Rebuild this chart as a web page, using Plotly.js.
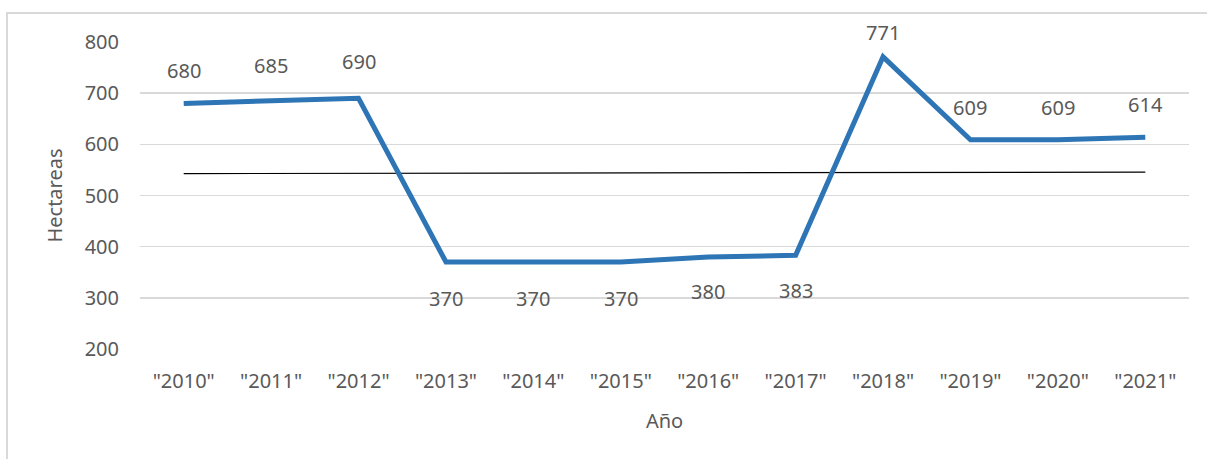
<!DOCTYPE html>
<html>
<head>
<meta charset="utf-8">
<script src="https://cdn.plot.ly/plotly-3.0.1.min.js"></script>
<style>html,body{margin:0;padding:0;background:#fff;}#chart{width:1207px;height:459px;}</style>
</head>
<body>
<div id="chart"></div>
<script>
var years = ['"2010"','"2011"','"2012"','"2013"','"2014"','"2015"','"2016"','"2017"','"2018"','"2019"','"2020"','"2021"'];
var hectareas = [680, 685, 690, 370, 370, 370, 380, 383, 771, 609, 609, 614];
var labelShift = [33, 35, 37, -36, -36, -36, -35, -35, 24, 32, 32, 33];

// linear trend line (least squares) computed from the data
var n = hectareas.length;
var idx = hectareas.map(function(_, i){ return i; });
var mx = idx.reduce(function(a,b){return a+b;},0)/n;
var my = hectareas.reduce(function(a,b){return a+b;},0)/n;
var sxy = 0, sxx = 0;
for (var i=0;i<n;i++){ sxy += (idx[i]-mx)*(hectareas[i]-my); sxx += (idx[i]-mx)*(idx[i]-mx); }
var slope = sxy/sxx, intercept = my - slope*mx;
var trend = idx.map(function(i){ return intercept + slope*i; });

var textColor = '#595959';
var fontFam = 'Noto Sans, Open Sans, sans-serif';
var fs = 20;

var traces = [
  {x: years, y: trend, mode: 'lines', line: {color: '#000000', width: 1.2}, hoverinfo: 'skip'},
  {x: years, y: hectareas, mode: 'lines', line: {color: '#2E75B6', width: 5}}
];

var annotations = years.map(function(yr, i){
  return {x: yr, y: hectareas[i], xref: 'x', yref: 'y', text: String(hectareas[i]),
          showarrow: false, yshift: labelShift[i],
          font: {family: fontFam, size: fs, color: textColor}};
});

var layout = {
  width: 1207, height: 459,
  margin: {l: 140, r: 18, t: 42, b: 110},
  paper_bgcolor: '#ffffff', plot_bgcolor: '#ffffff',
  showlegend: false,
  font: {family: fontFam, size: fs, color: textColor},
  xaxis: {
    type: 'category', range: [-0.5, 11.5], showgrid: false, zeroline: false, showline: false,
    ticks: '', ticklabelstandoff: 18,
    tickfont: {family: fontFam, size: fs, color: textColor},
    title: {text: 'Año', font: {family: fontFam, size: 20, color: textColor}, standoff: 20}
  },
  yaxis: {
    range: [200, 800], dtick: 100, showgrid: true, gridcolor: '#d9d9d9', gridwidth: 1.5,
    zeroline: false, showline: false, ticks: '', ticklabelstandoff: 20,
    tickfont: {family: fontFam, size: fs, color: textColor},
    title: {text: 'Hectareas', font: {family: fontFam, size: 20, color: textColor}, standoff: 16}
  },
  annotations: annotations,
  shapes: [{
    type: 'rect', xref: 'paper', yref: 'paper',
    x0: (7-140)/1049, x1: (1215-140)/1049, y0: (349-470)/307, y1: (349-13)/307,
    line: {color: '#d9d9d9', width: 2}, fillcolor: 'rgba(0,0,0,0)', layer: 'below'
  }]
};

Plotly.newPlot('chart', traces, layout, {displayModeBar: false, staticPlot: true});
</script>
</body>
</html>
